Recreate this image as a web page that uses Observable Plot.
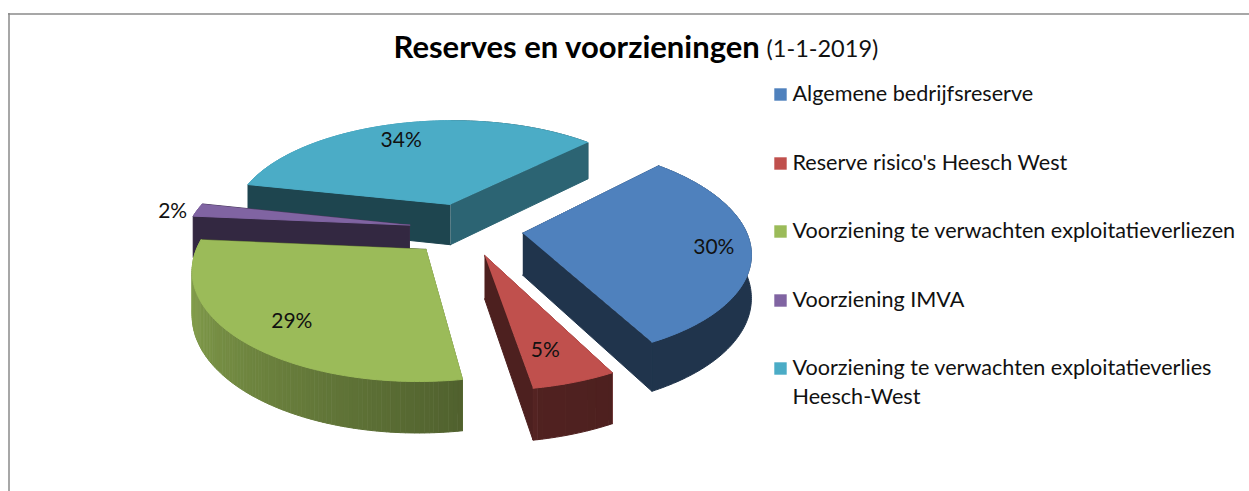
<!DOCTYPE html>
<html><head><meta charset="utf-8">
<script src="https://cdn.jsdelivr.net/npm/d3@7"></script>
<script src="https://cdn.jsdelivr.net/npm/@observablehq/plot@0.6"></script>
<style>html,body{margin:0;background:#fff}svg{display:block}</style></head><body>
<div id="c"></div>
<script>
const categories=["Algemene bedrijfsreserve","Reserve risico's Heesch West","Voorziening te verwachten exploitatieverliezen","Voorziening IMVA","Voorziening te verwachten exploitatieverlies","Heesch-West"];
const shares=[30,5,29,2,34];
const colors=["#4F81BD","#C0504D","#9BBB59","#8064A2","#4BACC6"];
const labelPlace=[[.84,0],[.77,1.7],[.78,-1.9],[1.108,-1.7],[.79,-3]];
const P={vx:465.49,vy:228.63,R:222.63,s:.46777,p:.00071,e:57.16,t0:44.68,d:41.83};
const starts=[];{let c=0;for(const v of shares){starts.push(c);c+=v}}
const rad=Math.PI/180;
function pt(i,ang,r,h){const a0=P.t0+starts[i]*3.6,mid=(a0+shares[i]*1.8)*rad,a=ang*rad;
 const U=P.R*r*Math.sin(a)+P.e*Math.sin(mid),V=-P.R*r*Math.cos(a)-P.e*Math.cos(mid),w=1/(1-P.p*V);
 return [P.vx+U*w,P.vy+(P.s*V+h*P.d)*w,V]}
const rows=[];let id=0;
function poly(pts,color){id++;for(const q of pts)rows.push({id,x:q[0],y:q[1],color})}
const shade=(c,f)=>{const k=d3.rgb(c);return d3.rgb(k.r*f,k.g*f,k.b*f).formatHex()};
const arcShade=d3.scaleLinear([150,170,171,270],[.4,.42,.52,.9]).clamp(true);
const order=[4,3,2,0,1];
for(const i of order){const a0=P.t0+starts[i]*3.6,a1=a0+shares[i]*3.6;const walls=[];
 const wall=(a,n)=>walls.push({V:pt(i,a,.5,0)[2],pts:[pt(i,a,0,0),pt(i,a,1,0),pt(i,a,1,1),pt(i,a,0,1)],c:shade(colors[i],(((n%360)+360)%360)<150?.58:.4)});
 wall(a0,a0-90);wall(a1,a1+90);
 const n=Math.max(4,Math.round(a1-a0));
 let run=null;
 const flush=()=>{if(run){const u=run.a;walls.push({V:d3.mean(u,b=>pt(i,b,1,0)[2]),pts:[...u.map(b=>pt(i,b,1,0)),...u.slice().reverse().map(b=>pt(i,b,1,1))],c:run.c})}run=null};
 for(let j=0;j<n;j++){const b0=a0+(a1-a0)*j/n,b1=a0+(a1-a0)*(j+1)/n,c=shade(colors[i],arcShade(((b0+b1)/2)%360));
  if(run&&run.c===c)run.a.push(b1);else{const prev=run;flush();run={c,a:[b0,b1]}}}
 flush();
 walls.sort((p,q)=>p.V-q.V);for(const w of walls)poly(w.pts,w.c);
 const top=[pt(i,a0,0,0)];for(let j=0;j<=n;j++)top.push(pt(i,a0+(a1-a0)*j/n,1,0));poly(top,colors[i]);}
const labels=shares.map((v,i)=>{const m=P.t0+(starts[i]+v/2)*3.6+labelPlace[i][1];const q=pt(i,m,labelPlace[i][0],0);return{t:v+"%",x:q[0],y:q[1]}});
const legendRows=[[categories[0],0,94],[categories[1],1,163],[categories[2],2,231],[categories[3],3,300],[categories[4],4,368],[categories[5],-1,397]];
const font="Lato";
const svg=Plot.plot({width:1249,height:491,margin:0,style:{background:"#fff",fontFamily:font},x:{domain:[0,1249],range:[0,1249],axis:null},y:{domain:[0,491],range:[0,491],axis:null},
 marks:[
  Plot.ruleX([8.5],{y1:13,y2:491,stroke:"#8a8a8a",strokeWidth:1.5}),
  Plot.ruleY([13.5],{x1:8,x2:1249,stroke:"#8a8a8a",strokeWidth:1.5}),
  Plot.line(rows,{x:"x",y:"y",z:"id",fill:"color",stroke:"color",strokeWidth:1,strokeLinejoin:"round",curve:"linear"}),
  Plot.text(labels,{x:"x",y:"y",text:"t",fontSize:21,fill:"#111"}),
  Plot.text(["Reserves en voorzieningen"],{x:393,y:48,textAnchor:"start",fontSize:31,fontWeight:700,fill:"#000"}),
  Plot.text(["(1-1-2019)"],{x:766,y:49,textAnchor:"start",fontSize:23.5,fill:"#111"}),
  Plot.dot(legendRows.filter(d=>d[1]>=0),{x:()=>780,y:d=>d[2],symbol:"square",r:7,fill:d=>colors[d[1]],stroke:null}),
  Plot.text(legendRows,{x:()=>792,y:d=>d[2],text:d=>d[0],textAnchor:"start",fontSize:21.6,fill:"#111"})
 ]});
document.getElementById("c").append(svg);
</script></body></html>
